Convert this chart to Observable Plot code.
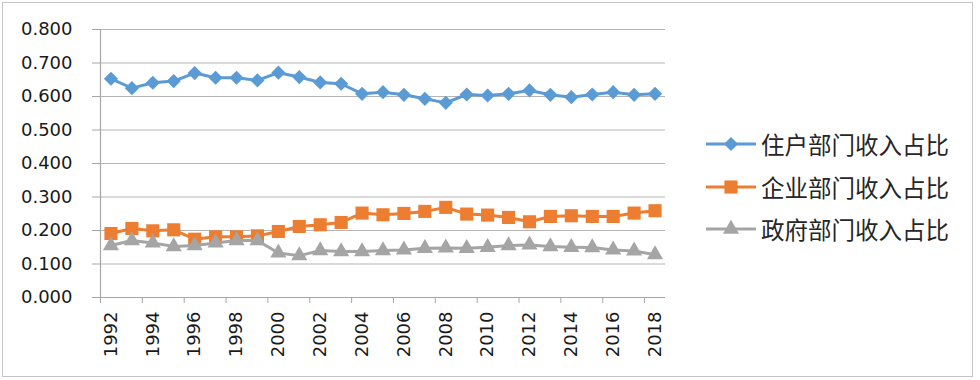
<!DOCTYPE html>
<html><head><meta charset="utf-8">
<script src="https://cdn.jsdelivr.net/npm/d3@7"></script>
<script src="https://cdn.jsdelivr.net/npm/@observablehq/plot@0.6"></script>
<style>
html,body{margin:0;padding:0;background:#fff;}
#wrap{position:relative;width:980px;height:380px;overflow:hidden;background:#fff;}
#frame{position:absolute;left:2px;top:2px;width:971px;height:375px;border:1.5px solid #c4c4c4;box-sizing:border-box;pointer-events:none;}
#chart{position:absolute;left:0;top:0;}
.leg{position:absolute;left:704px;height:30px;display:flex;align-items:center;font-family:"Noto Sans CJK SC";font-size:23.5px;color:#262626;white-space:nowrap;}
.leg svg{margin-right:3px;}
</style></head>
<body>
<div id="wrap"><div id="chart"></div><div id="legend"></div><div id="frame"></div></div>
<script>
const years = d3.range(1992, 2019);
const seriesNames = ["住户部门收入占比", "企业部门收入占比", "政府部门收入占比"];
const household = [0.653,0.625,0.641,0.646,0.670,0.656,0.656,0.648,0.671,0.658,0.642,0.638,0.608,0.613,0.605,0.593,0.581,0.606,0.603,0.608,0.618,0.605,0.598,0.606,0.613,0.605,0.608];
const enterprise = [0.191,0.206,0.199,0.202,0.174,0.181,0.181,0.184,0.197,0.212,0.217,0.224,0.252,0.247,0.251,0.257,0.269,0.249,0.246,0.239,0.226,0.242,0.244,0.242,0.242,0.252,0.259];
const government = [0.155,0.170,0.163,0.152,0.155,0.163,0.170,0.170,0.133,0.125,0.140,0.137,0.137,0.140,0.142,0.147,0.148,0.147,0.150,0.155,0.157,0.152,0.150,0.149,0.142,0.139,0.128];
const yTicks = [0, 0.1, 0.2, 0.3, 0.4, 0.5, 0.6, 0.7, 0.8];
const xLabelYears = years.filter(y => y % 2 === 0);
const colors = ["#5b9bd5", "#ed7d31", "#a5a5a5"];
const symbols = ["diamond2", "square", "triangle"];
const sizes = [6.4, 7.4, 6.0];

const allSeries = [household, enterprise, government];
const data = [];
allSeries.forEach((vals, i) => vals.forEach((v, j) => data.push({year: years[j], value: v, series: seriesNames[i]})));

const xTickPos = d3.range(1991.5, 2018, 2);
const gridColor = "#b5b5b5";

const marks = [
  Plot.gridY(yTicks, {stroke: gridColor, strokeOpacity: 1, strokeWidth: 1.2}),
  Plot.ruleX([1991.5], {stroke: "#a6a6a6", strokeWidth: 1.2}),
  Plot.ruleY([0], {stroke: "#a6a6a6", strokeWidth: 1.2}),
  Plot.axisY(yTicks, {tickFormat: d3.format(".3f"), tickSize: 8, tickPadding: 20, stroke: "#a6a6a6", fontSize: 18, label: null}),
  Plot.axisX(xTickPos, {tickSize: 6, tickFormat: () => "", stroke: "#a6a6a6", label: null}),
  Plot.axisX(xLabelYears, {tickSize: 0, tickPadding: 14, tickRotate: -90, tickFormat: d => String(d), fontSize: 18, label: null})
];
seriesNames.forEach((name, i) => {
  const d = data.filter(r => r.series === name);
  marks.push(Plot.line(d, {x: "year", y: "value", stroke: colors[i], strokeWidth: 3}));
  marks.push(Plot.dot(d, {x: "year", y: "value", fill: colors[i], stroke: "none", symbol: symbols[i], r: sizes[i]}));
});

const chart = Plot.plot({
  width: 690,
  height: 380,
  marginLeft: 100,
  marginRight: 25,
  marginTop: 29,
  marginBottom: 83,
  style: {fontFamily: "DejaVu Sans", fontSize: "18px", color: "#1a1a1a", background: "transparent"},
  x: {type: "linear", domain: [1991.5, 2018.5], axis: null},
  y: {domain: [0, 0.8], axis: null},
  marks
});
document.getElementById("chart").appendChild(chart);

// legend
const legend = document.getElementById("legend");
const rowCenters = [144, 187, 229];
seriesNames.forEach((name, i) => {
  const row = document.createElement("div");
  row.className = "leg";
  row.style.top = (rowCenters[i] - 15) + "px";
  const sw = d3.create("svg").attr("width", 54).attr("height", 30);
  sw.append("line").attr("x1", 2).attr("x2", 52).attr("y1", 15).attr("y2", 15).attr("stroke", colors[i]).attr("stroke-width", 3);
  sw.append("path").attr("transform", "translate(27,15)")
    .attr("d", d3.symbol([d3.symbolDiamond2, d3.symbolSquare, d3.symbolTriangle][i], Math.PI * sizes[i] * sizes[i])())
    .attr("fill", colors[i]);
  row.appendChild(sw.node());
  const t = document.createElement("span");
  t.textContent = name;
  row.appendChild(t);
  legend.appendChild(row);
});
</script>
</body></html>
